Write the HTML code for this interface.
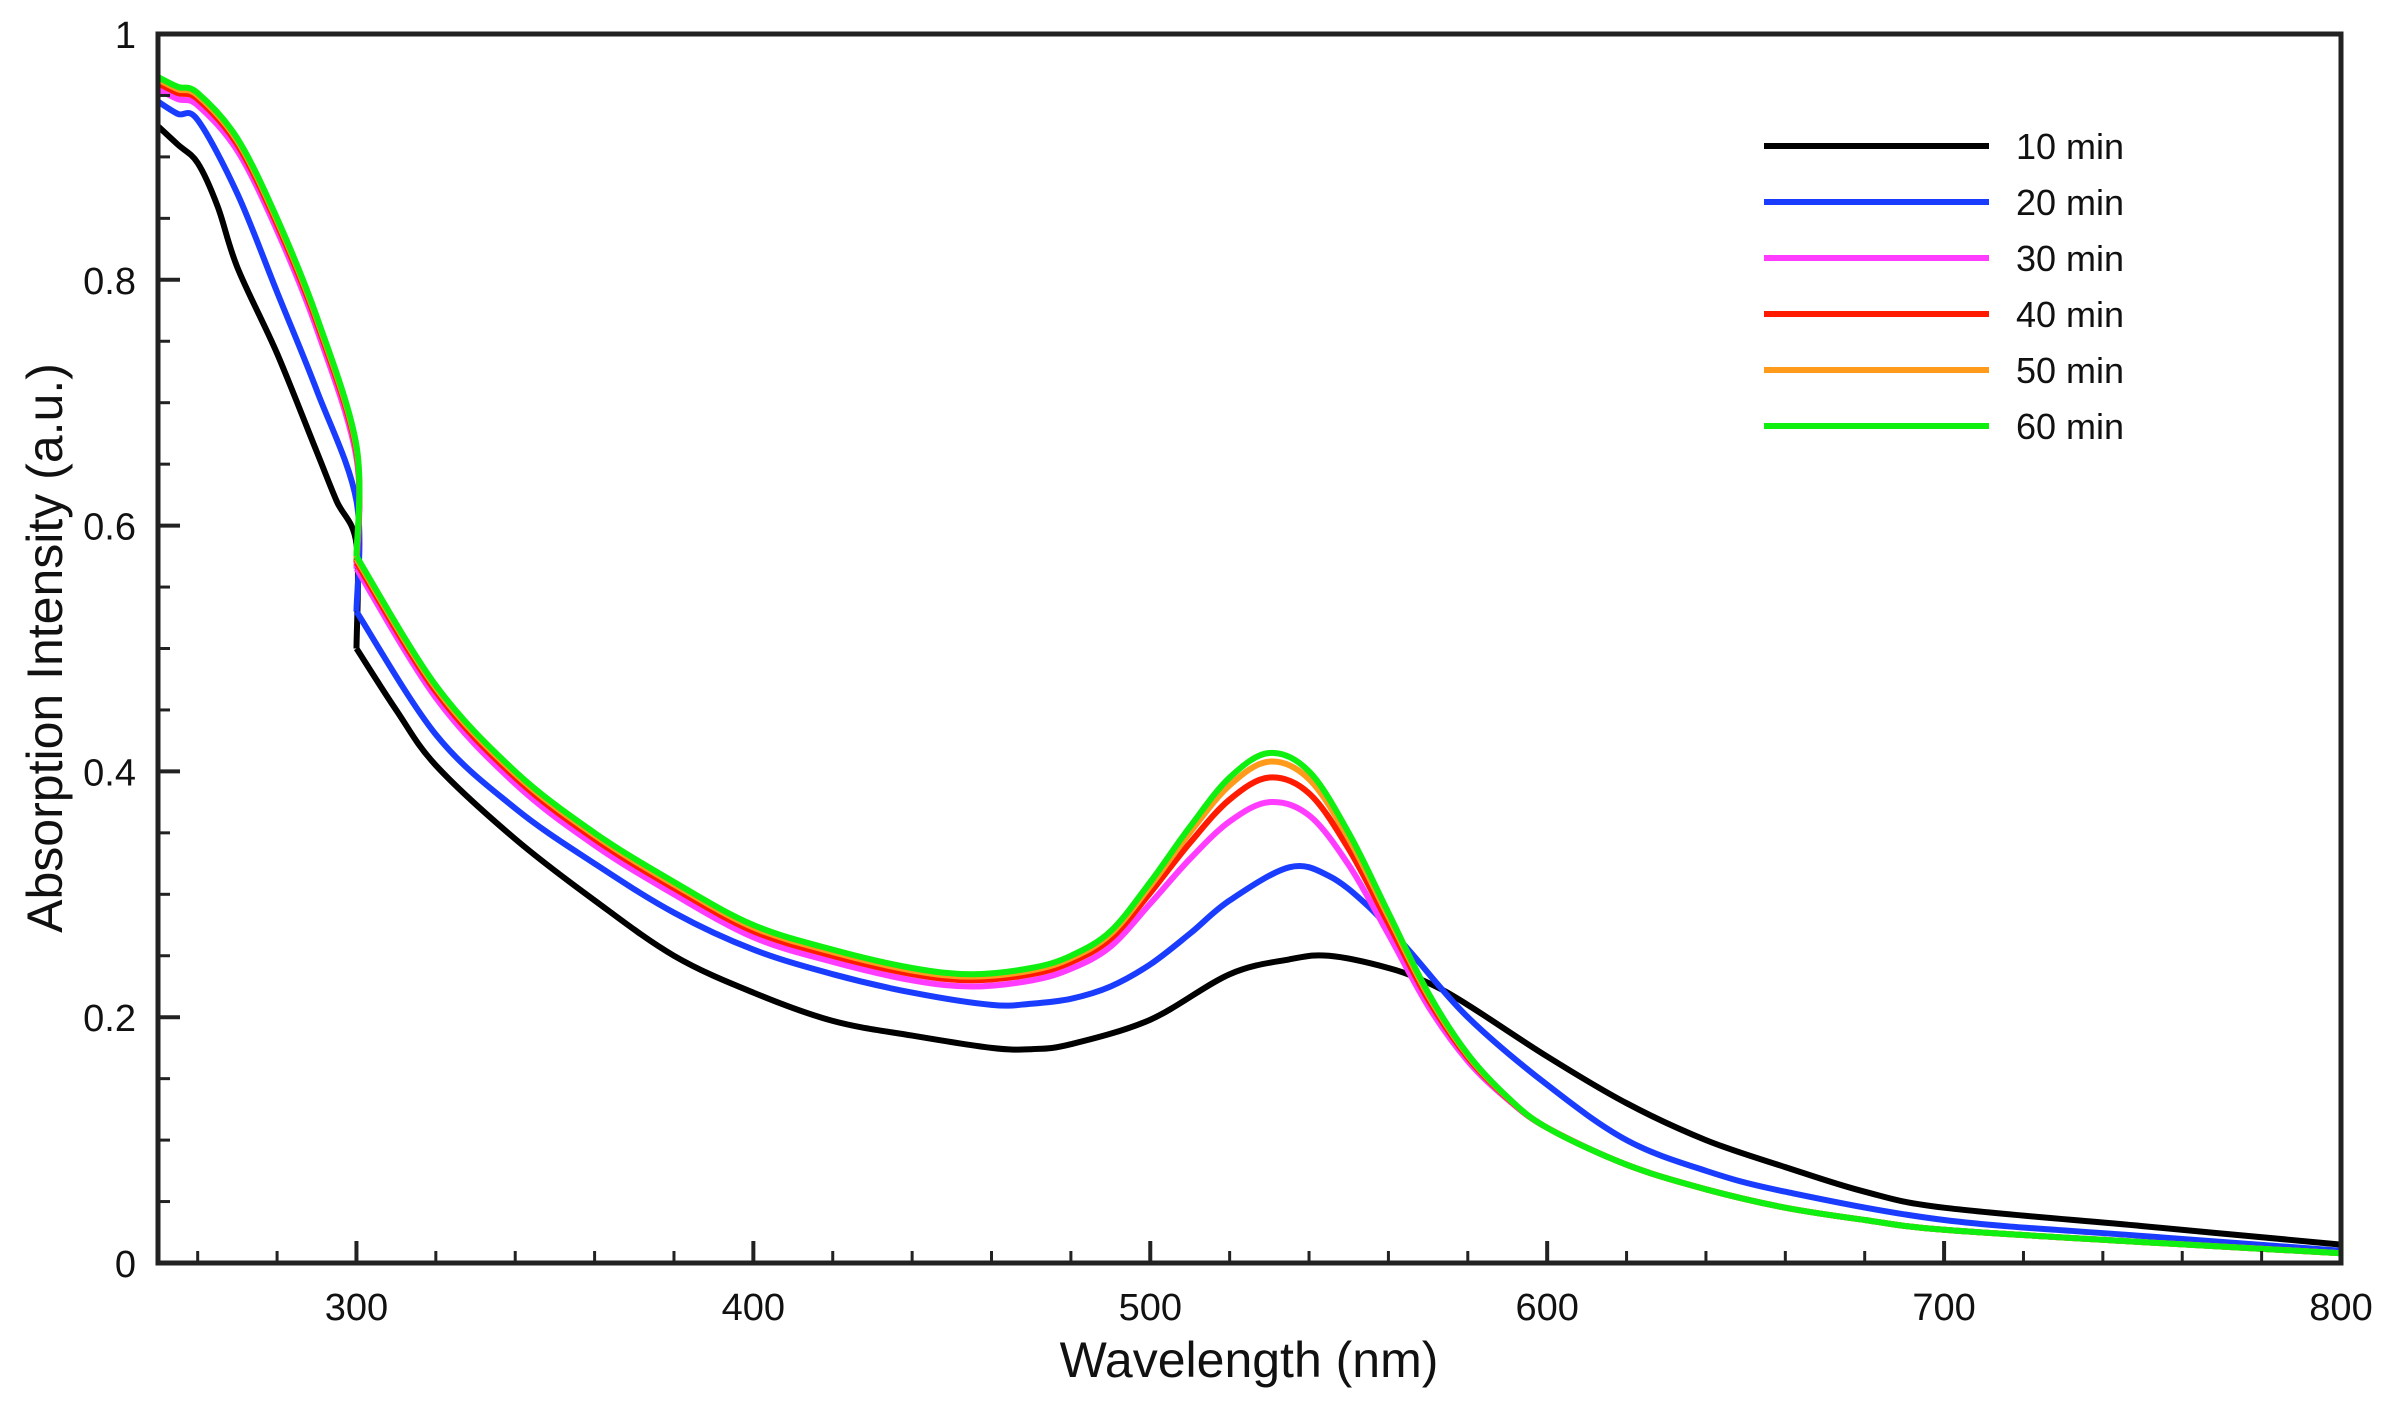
<!DOCTYPE html><html><head><meta charset="utf-8"><style>body{margin:0;background:#fff}svg{display:block}text{font-family:"Liberation Sans",Arial,sans-serif;fill:#111}</style></head><body>
<svg id="s" width="2388" height="1412" xmlns="http://www.w3.org/2000/svg"></svg>
<script>
const s=document.getElementById('s');
const X0=158,X1=2341,Y0=1263,Y1=34;
const fx=x=>X0+(x-250)/550*(X1-X0), fy=v=>Y0-v*(Y0-Y1);
let h='';
function seg(p){let d=`M${p[0][0].toFixed(1)},${p[0][1].toFixed(1)}`;for(let i=0;i<p.length-1;i++){const a=p[Math.max(0,i-1)],b=p[i],c=p[i+1],e=p[Math.min(p.length-1,i+2)];const c1=[b[0]+(c[0]-a[0])/6,b[1]+(c[1]-a[1])/6],c2=[c[0]-(e[0]-b[0])/6,c[1]-(e[1]-b[1])/6];d+=`C${c1[0].toFixed(1)},${c1[1].toFixed(1)} ${c2[0].toFixed(1)},${c2[1].toFixed(1)} ${c[0].toFixed(1)},${c[1].toFixed(1)}`;}return d;}
function path(pts,c){const P=pts.map(p=>[fx(p[0]),fy(p[1])]);let segs=[[P[0]]];for(let i=1;i<P.length;i++){if(pts[i][0]===pts[i-1][0]){segs[segs.length-1].push(P[i]);segs.push([P[i]]);}else segs[segs.length-1].push(P[i]);}
return `<path fill="none" stroke="${c}" stroke-width="6" stroke-linejoin="round" d="${segs.map(seg).join(' ')}"/>`;}
const black=[[250,.925],[255,.91],[260,.895],[265,.86],[270,.81],[280,.74],[290,.66],[295,.62],[300,.585],[300,.5],[310,.45],[320,.405],[340,.345],[360,.295],[380,.25],[400,.22],[420,.197],[440,.185],[460,.175],[470,.174],[480,.178],[500,.198],[520,.235],[535,.247],[545,.25],[560,.24],[570,.228],[580,.21],[600,.168],[620,.13],[640,.1],[660,.078],[680,.058],[700,.045],[750,.03],[800,.015]];
const blue=[[250,.945],[255,.935],[260,.93],[270,.87],[280,.79],[290,.71],[300,.62],[300,.53],[320,.43],[340,.37],[360,.325],[380,.285],[400,.255],[420,.235],[440,.22],[460,.21],[470,.211],[480,.215],[490,.225],[500,.243],[510,.268],[520,.295],[535,.322],[545,.315],[555,.29],[565,.255],[580,.2],[600,.145],[620,.1],[640,.075],[660,.058],[700,.035],[750,.022],[800,.01]];
const green=[[250,.965],[255,.957],[260,.952],[270,.915],[280,.85],[290,.77],[300,.665],[300,.575],[320,.47],[340,.4],[360,.35],[380,.31],[400,.275],[420,.255],[440,.24],[455,.235],[470,.24],[480,.25],[490,.27],[500,.31],[510,.355],[520,.395],[530,.415],[540,.4],[550,.35],[560,.285],[570,.22],[580,.17],[590,.135],[600,.11],[620,.08],[640,.06],[660,.045],[680,.035],[700,.027],[750,.017],[800,.008]];
function deriv(a,b){return green.map(p=>{const x=p[0];let v=p[1]-a*Math.exp(-((x-530)**2)/(2*18*18))-(x<565?b:b*Math.max(0,1-(x-565)/30));return [x,v];});}
h+=path(black,'#000')+path(blue,'#1a3cff')+path(deriv(.03,.01),'#ff3cff')+path(deriv(.015,.005),'#ff1a00')+path(deriv(.005,.002),'#ff9a1a')+path(green,'#10f010');
h+=`<rect x="${X0}" y="${Y1}" width="${X1-X0}" height="${Y0-Y1}" fill="none" stroke="#222" stroke-width="5"/>`;
for(let v=0;v<=1.0001;v+=0.05){const y=fy(v),maj=Math.round(v*100)%20==0;h+=`<line x1="${X0}" x2="${X0+(maj?22:12)}" y1="${y}" y2="${y}" stroke="#222" stroke-width="${maj?4:3}"/>`;if(maj){const l=v<0.01?'0':(v>0.99?'1':v.toFixed(1));h+=`<text x="136" y="${y+14}" font-size="38" text-anchor="end">${l}</text>`;}}
for(let x=260;x<=800;x+=20){const px=fx(x),maj=x%100==0;h+=`<line x1="${px}" x2="${px}" y1="${Y0}" y2="${Y0-(maj?22:12)}" stroke="#222" stroke-width="${maj?4:3}"/>`;}
for(let x=300;x<=800;x+=100)h+=`<text x="${fx(x)}" y="1320" font-size="38" text-anchor="middle">${x}</text>`;
h+=`<text x="1249" y="1377" font-size="50" text-anchor="middle">Wavelength (nm)</text>`;
h+=`<text transform="translate(62,648) rotate(-90)" font-size="50" text-anchor="middle">Absorption Intensity (a.u.)</text>`;
const lg=[['10 min','#000'],['20 min','#1a3cff'],['30 min','#ff3cff'],['40 min','#ff1a00'],['50 min','#ff9a1a'],['60 min','#10f010']];
lg.forEach((l,i)=>{const y=146+i*56;h+=`<line x1="1764" x2="1989" y1="${y}" y2="${y}" stroke="${l[1]}" stroke-width="6"/><text x="2016" y="${y+13}" font-size="36">${l[0]}</text>`;});
s.innerHTML=h;
</script></body></html>
